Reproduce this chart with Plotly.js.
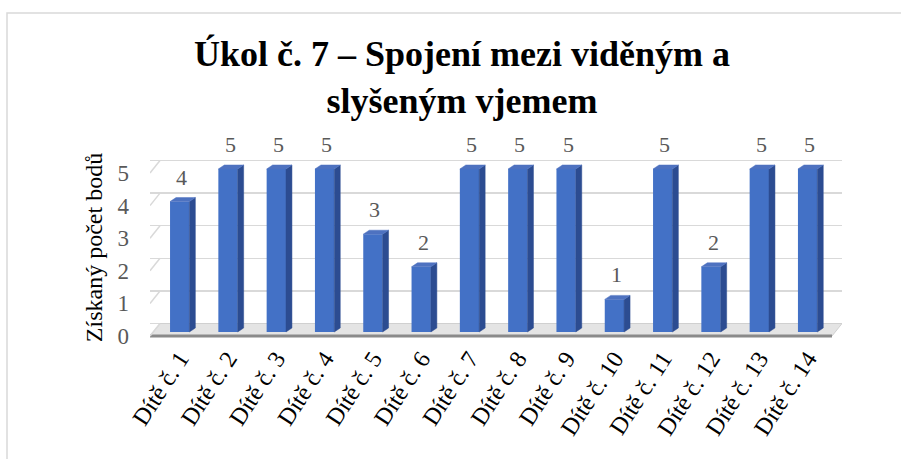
<!DOCTYPE html>
<html>
<head>
<meta charset="utf-8">
<script src="https://cdn.plot.ly/plotly-3.0.1.min.js"></script>
<style>
html,body{margin:0;padding:0;background:#fff;}
#chart{width:901px;height:459px;}
</style>
</head>
<body>
<div id="chart"></div>
<script>
// ---- data ----
const categories = ["Dítě č. 1","Dítě č. 2","Dítě č. 3","Dítě č. 4","Dítě č. 5","Dítě č. 6","Dítě č. 7",
                    "Dítě č. 8","Dítě č. 9","Dítě č. 10","Dítě č. 11","Dítě č. 12","Dítě č. 13","Dítě č. 14"];
const points = [4,5,5,5,3,2,5,5,5,1,5,2,5,5];
const yTickValues = [0,1,2,3,4,5];
const yTickLabels = ["0","1","2","3","4","5"];
const chartTitle = "Úkol č. 7 – Spojení mezi viděným a<br>slyšeným vjemem";
const yAxisTitle = "Získaný počet bodů";

// ---- pseudo-3D geometry (axis units) ----
const X_MIN = -0.615, X_MAX = 13.712;
const Y_MIN = -0.399, Y_MAX = 5.583;
const BAR_W = 0.4, DEPTH_X = 0.124, DEPTH_Y = 0.123;
const BACK_DY = 0.26, FRONT_DY = -0.123, SLANT_X = 0.207;

const idx = categories.map((_, i) => i);

// side faces & top faces from data
const sideX = [], sideY = [], topX = [], topY = [];
idx.forEach(i => {
  const v = points[i], r = i + BAR_W / 2, l = i - BAR_W / 2;
  sideX.push(r, r, r + DEPTH_X, r + DEPTH_X, r, null);
  sideY.push(0, v, v + DEPTH_Y, DEPTH_Y, 0, null);
  topX.push(l, r, r + DEPTH_X, l + DEPTH_X, l, null);
  topY.push(v, v, v + DEPTH_Y, v + DEPTH_Y, v, null);
});

// left slants of the gridlines (wall edge)
const slantX = [], slantY = [];
yTickValues.forEach(v => {
  slantX.push(X_MIN, X_MIN + SLANT_X, null);
  slantY.push(v + FRONT_DY, v + BACK_DY, null);
});

const traces = [
  { // carrier for the back-wall grid axis
    type: 'scatter', x: [null], y: [null], xaxis: 'x', yaxis: 'y2',
    hoverinfo: 'skip', showlegend: false
  },
  {
    type: 'bar', x: idx, y: points, width: BAR_W,
    marker: { color: '#4371C6', line: { width: 0 } },
    hoverinfo: 'x+y', showlegend: false
  },
  {
    type: 'scatter', mode: 'lines', x: sideX, y: sideY, fill: 'toself',
    fillcolor: '#2C4C91', line: { color: '#2C4C91', width: 0.5 },
    hoverinfo: 'skip', showlegend: false
  },
  {
    type: 'scatter', mode: 'lines', x: topX, y: topY, fill: 'toself',
    fillcolor: '#4E72C0', line: { color: '#4E72C0', width: 0.5 },
    hoverinfo: 'skip', showlegend: false
  },
  {
    type: 'scatter', mode: 'lines', x: slantX, y: slantY,
    line: { color: '#d9d9d9', width: 1.5 },
    hoverinfo: 'skip', showlegend: false
  }
];

const annotations = idx.map(i => ({
  x: i, y: points[i], xref: 'x', yref: 'y',
  text: String(points[i]), showarrow: false,
  yanchor: 'bottom', xanchor: 'center', yshift: 10, xshift: 2,
  font: { family: 'Liberation Serif', size: 22, color: '#595959' }
}));

const layout = {
  width: 901, height: 459,
  margin: { l: 150, r: 59, t: 150, b: 114, autoexpand: false },
  paper_bgcolor: '#ffffff', plot_bgcolor: 'rgba(0,0,0,0)',
  showlegend: false,
  font: { family: 'Liberation Serif', color: '#000' },
  title: {
    text: chartTitle,
    font: { family: 'Liberation Serif', size: 36, weight: 'bold', color: '#000' },
    x: 462 / 901, xref: 'container', xanchor: 'center',
    y: 1 - 66 / 459, yref: 'container', yanchor: 'top'
  },
  xaxis: {
    range: [X_MIN, X_MAX], tickvals: idx, ticktext: categories,
    tickangle: -57, showgrid: false, zeroline: false, showline: false, ticks: '',
    ticklabelstandoff: -6,
    tickfont: { family: 'Liberation Serif', size: 24, color: '#000' },
    automargin: false, fixedrange: true
  },
  yaxis: {
    range: [Y_MIN, Y_MAX], tickvals: yTickValues, ticktext: yTickLabels,
    showgrid: false, zeroline: false, showline: false, ticks: '',
    ticklabelshift: 4, ticklabelstandoff: 20,
    tickfont: { family: 'Liberation Serif', size: 23, color: '#595959' },
    title: { text: yAxisTitle, font: { family: 'Liberation Serif', size: 24, color: '#000' }, standoff: 8 },
    automargin: false, fixedrange: true
  },
  yaxis2: {
    overlaying: 'y', range: [Y_MIN - BACK_DY, Y_MAX - BACK_DY],
    tickvals: yTickValues, showticklabels: false, ticks: '',
    showgrid: true, gridcolor: '#d9d9d9', gridwidth: 1.5,
    zeroline: false, showline: false, fixedrange: true
  },
  shapes: [
    { // hide grid stubs in front of the back wall edge
      type: 'rect', layer: 'between', xref: 'x', yref: 'paper',
      x0: X_MIN, x1: X_MIN + SLANT_X, y0: 0, y1: 1,
      fillcolor: '#ffffff', line: { width: 0 }
    },
    { // floor
      type: 'path', layer: 'between', xref: 'x', yref: 'y',
      path: `M ${X_MIN},${FRONT_DY} L ${X_MAX - SLANT_X},${FRONT_DY} L ${X_MAX},${BACK_DY} L ${X_MIN + SLANT_X},${BACK_DY} Z`,
      fillcolor: '#e4e4e4', line: { color: '#d0d0d0', width: 1 }
    },
    { // floor front edge shadow
      type: 'line', layer: 'between', xref: 'x', yref: 'y',
      x0: X_MIN, x1: X_MAX - SLANT_X, y0: FRONT_DY, y1: FRONT_DY,
      line: { color: '#8a8a8a', width: 3 }
    },
    { // chart frame
      type: 'rect', layer: 'below', xref: 'paper', yref: 'paper',
      x0: (7 - 150) / 692, x1: (920 - 150) / 692,
      y0: (345 - 480) / 195, y1: (345 - 13) / 195,
      fillcolor: 'rgba(0,0,0,0)', line: { color: '#d9d9d9', width: 1.5 }
    }
  ],
  annotations: annotations
};

Plotly.newPlot('chart', traces, layout, { displayModeBar: false, staticPlot: true });
</script>
</body>
</html>
